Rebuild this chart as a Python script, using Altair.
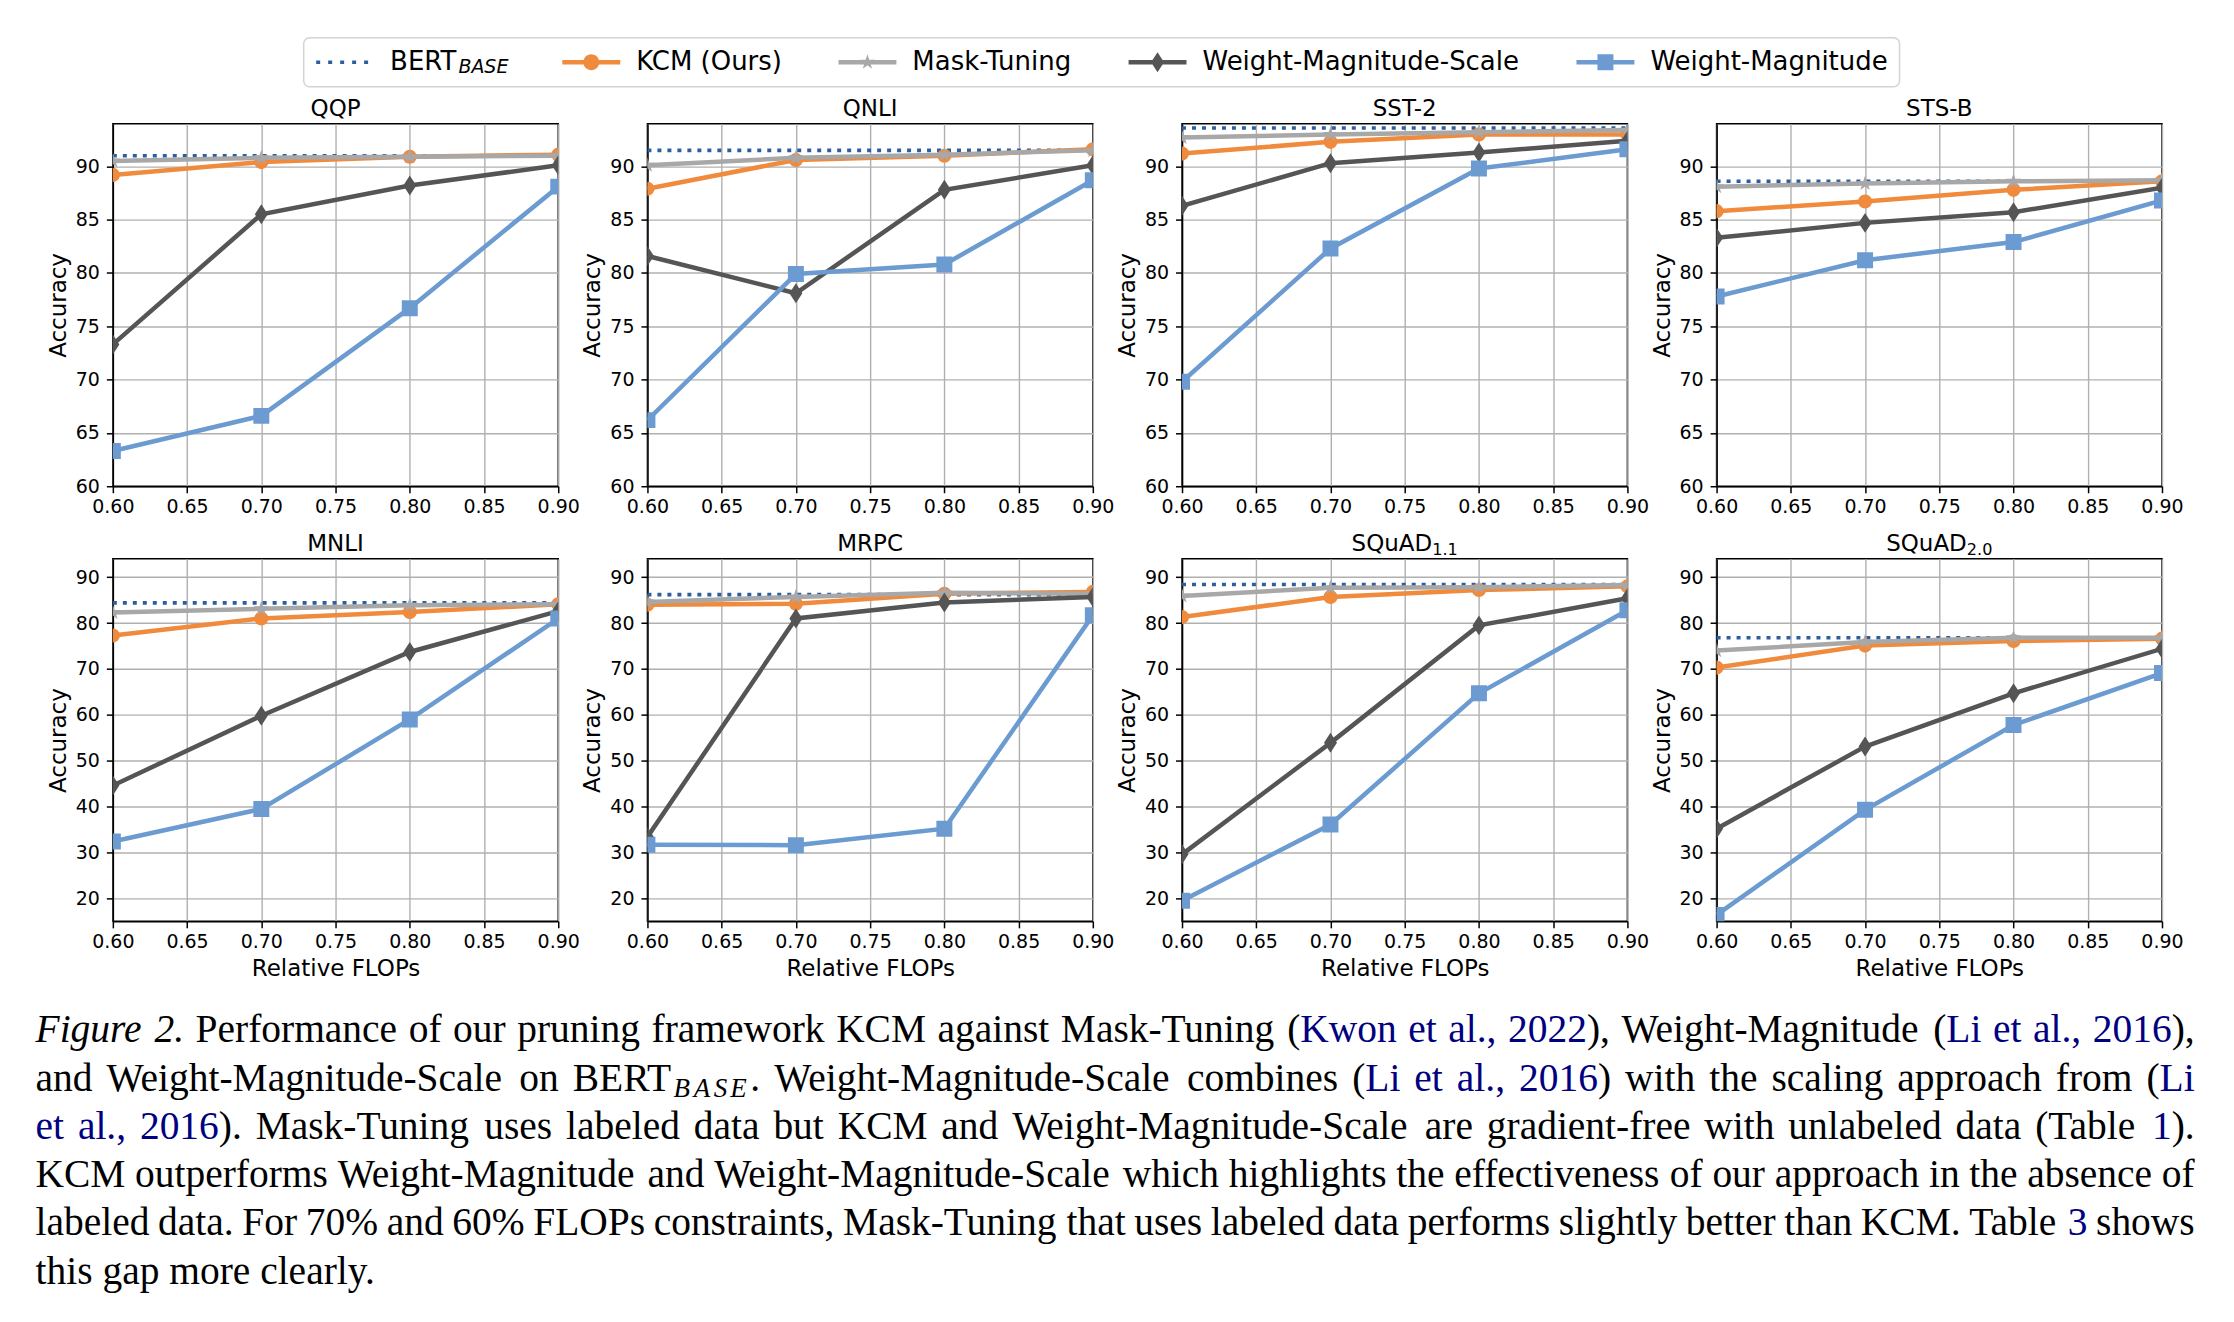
import math
import altair as alt
import pandas as pd

# ---------------------------------------------------------------- data
flops = [0.6, 0.7, 0.8, 0.9]
tasks = ["QQP", "QNLI", "SST-2", "STS-B", "MNLI", "MRPC", "SQuAD1.1", "SQuAD2.0"]

bert_base = {"QQP": 91.0, "QNLI": 91.5, "SST-2": 93.6, "STS-B": 88.6,
             "MNLI": 84.4, "MRPC": 86.2, "SQuAD1.1": 88.4, "SQuAD2.0": 76.8}
kcm = {"QQP": [89.2, 90.4, 90.9, 91.1], "QNLI": [87.9, 90.6, 91.0, 91.6],
       "SST-2": [91.2, 92.3, 93.0, 93.0], "STS-B": [85.8, 86.7, 87.8, 88.6],
       "MNLI": [77.3, 81.0, 82.4, 84.1], "MRPC": [84.0, 84.2, 86.4, 86.8],
       "SQuAD1.1": [81.3, 85.7, 87.2, 88.0], "SQuAD2.0": [70.3, 75.1, 76.1, 76.6]}
mask_tuning = {"QQP": [90.5, 90.8, 90.9, 91.0], "QNLI": [90.1, 90.8, 91.1, 91.5],
               "SST-2": [92.7, 93.0, 93.2, 93.4], "STS-B": [88.1, 88.4, 88.6, 88.7],
               "MNLI": [82.3, 83.1, 83.9, 84.1], "MRPC": [84.6, 85.7, 86.6, 86.4],
               "SQuAD1.1": [85.9, 87.7, 87.8, 88.3], "SQuAD2.0": [74.0, 75.9, 76.8, 76.8]}
wm_scale = {"QQP": [73.3, 85.5, 88.2, 90.1], "QNLI": [81.6, 78.1, 87.8, 90.1],
            "SST-2": [86.3, 90.3, 91.3, 92.4], "STS-B": [83.3, 84.7, 85.7, 88.0],
            "MNLI": [44.6, 59.8, 73.7, 82.6], "MRPC": [33.4, 81.0, 84.5, 85.7],
            "SQuAD1.1": [29.6, 53.9, 79.5, 85.4], "SQuAD2.0": [35.2, 53.1, 64.7, 74.4]}
wm = {"QQP": [63.3, 66.6, 76.7, 88.1], "QNLI": [66.2, 79.9, 80.8, 88.7],
      "SST-2": [69.8, 82.3, 89.8, 91.6], "STS-B": [77.8, 81.2, 82.9, 86.8],
      "MNLI": [32.4, 39.5, 59.0, 81.0], "MRPC": [31.7, 31.6, 35.2, 81.7],
      "SQuAD1.1": [19.5, 36.1, 64.7, 82.8], "SQuAD2.0": [16.4, 39.3, 57.8, 69.1]}

legend_names = ["BERT", "KCM (Ours)", "Mask-Tuning", "Weight-Magnitude-Scale", "Weight-Magnitude"]
x_ticks = [0.6, 0.65, 0.7, 0.75, 0.8, 0.85, 0.9]
y_ticks_top = [60, 65, 70, 75, 80, 85, 90]
y_ticks_bottom = [20, 30, 40, 50, 60, 70, 80, 90]

caption_lines = [
    [("Figure 2.", "i"), (" Performance of our pruning framework KCM against Mask-Tuning (", "n"),
     ("Kwon et al., 2022", "l"), ("), Weight-Magnitude (", "n"), ("Li et al., 2016", "l"), ("),", "n")],
    [("and Weight-Magnitude-Scale on BERT", "n"), ("BASE", "s"),
     (". Weight-Magnitude-Scale combines (", "n"), ("Li et al., 2016", "l"),
     (") with the scaling approach from (", "n"), ("Li", "l")],
    [("et al., 2016", "l"),
     (").  Mask-Tuning uses labeled data but KCM and Weight-Magnitude-Scale are gradient-free with unlabeled data (Table ", "n"),
     ("1", "l"), (").", "n")],
    [("KCM outperforms Weight-Magnitude and Weight-Magnitude-Scale which highlights the effectiveness of our approach in the absence of", "n")],
    [("labeled data. For 70% and 60% FLOPs constraints, Mask-Tuning that uses labeled data performs slightly better than KCM. Table ", "n"),
     ("3", "l"), (" shows", "n")],
    [("this gap more clearly.", "n")],
]

# ---------------------------------------------------------------- style
FONT = "DejaVu Sans"
SERIF = "Liberation Serif"
PANEL_W, PANEL_H = 446, 363
GAP_X, GAP_Y = 89.3, 72.7
ORIGIN_X, ORIGIN_Y = 111.4, 121.7          # top-left of the first plot area
CANVAS_W, CANVAS_H = 2234, 1322
LINE_W = 4.5

C_BERT = "#2D5F9E"
C_KCM = "#F08A3C"
C_MT = "#A8A8A8"
C_WMS = "#555555"
C_WM = "#6B9BD1"
C_LINK = "#000080"


def star_path(r_out, r_in):
    pts = []
    for k in range(10):
        r = r_out if k % 2 == 0 else r_in
        a = -math.pi / 2 + k * math.pi / 5
        pts.append((r * math.cos(a), r * math.sin(a)))
    return "M" + "L".join(f"{x:.4f},{y:.4f}" for x, y in pts) + "Z"


THIN_DIAMOND = "M0,-1L0.65,0L0,1L-0.65,0Z"
STAR = star_path(1.0, 0.382)

# series: name, values, colour, marker shape, marker size
series = [
    ("KCM (Ours)", kcm, C_KCM, "circle", 200),
    ("Mask-Tuning", mask_tuning, C_MT, STAR, 260),
    ("Weight-Magnitude-Scale", wm_scale, C_WMS, THIN_DIAMOND, 400),
    ("Weight-Magnitude", wm, C_WM, "square", 256),
]

# legend handles: a line with its marker, unit = 12 px
LU = 12.0
HL = 29 / LU
LW = LINE_W / 2 / LU


def f(v):
    return f"{v:.4f}"


line_rect = f"M{f(-HL)},{f(-LW)}H{f(HL)}V{f(LW)}H{f(-HL)}Z"
r_c = 8 / LU
circle_h = f"M{f(-r_c)},0A{f(r_c)},{f(r_c)} 0 1 1 {f(r_c)},0A{f(r_c)},{f(r_c)} 0 1 1 {f(-r_c)},0Z"
r_s = 8 / LU
square_h = f"M{f(-r_s)},{f(-r_s)}H{f(r_s)}V{f(r_s)}H{f(-r_s)}Z"
dh, dw = 10 / LU, 6.5 / LU
diamond_h = f"M0,{f(-dh)}L{f(dw)},0L0,{f(dh)}L{f(-dw)},0Z"
star_h = star_path(8 / LU, 8 * 0.382 / LU)
dots = ""
for i in range(5):
    x0 = -HL + i * 12 / LU
    dots += f"M{f(x0)},{f(-1.8 / LU)}H{f(x0 + 4 / LU)}V{f(1.8 / LU)}H{f(x0)}Z"

legend_shapes = [dots, line_rect + circle_h, line_rect + star_h,
                 line_rect + diamond_h, line_rect + square_h]
legend_colors = [C_BERT, C_KCM, C_MT, C_WMS, C_WM]
# room kept after "BERT" for the subscript (blank glyph at the end keeps it from trimming)
BERT_PAD = "\u00a0\u00a0\u00a0\u2009\u2800"


def x_axis(with_title):
    kw = dict(values=x_ticks, format=".2f", labelFlush=False, labelOverlap=False,
              grid=True, gridColor="#b0b0b0", gridWidth=1.4,
              tickSize=6.5, tickWidth=1.5, tickColor="black",
              domainColor="black", domainWidth=1.5,
              labelFont=FONT, labelFontSize=19, labelColor="black", labelPadding=5)
    if with_title:
        kw.update(title="Relative FLOPs", titleFont=FONT, titleFontSize=23,
                  titleFontWeight="normal", titleColor="black",
                  titleY=54, titleBaseline="alphabetic")
    else:
        kw["title"] = None
    return alt.Axis(**kw)


def y_axis(ticks):
    return alt.Axis(values=ticks, format="d", labelOverlap=False, labelFlush=False,
                    grid=True, gridColor="#b0b0b0", gridWidth=1.4,
                    tickSize=6.5, tickWidth=1.5, tickColor="black",
                    domainColor="black", domainWidth=1.5,
                    labelFont=FONT, labelFontSize=19, labelColor="black", labelPadding=7,
                    title="Accuracy", titleFont=FONT, titleFontSize=23,
                    titleFontWeight="normal", titleColor="black",
                    titleX=-54.5, titleY=PANEL_H / 2, titleAngle=270,
                    titleAlign="center", titleBaseline="middle")


def one_row():
    return pd.DataFrame({"a": [0]})


def panel(task, row, with_legend):
    ydom = [60, 94] if row == 0 else [15, 94]
    ticks = y_ticks_top if row == 0 else y_ticks_bottom
    xenc = alt.X("x:Q", scale=alt.Scale(domain=[0.6, 0.9], nice=False, zero=False),
                 axis=x_axis(row == 1))
    yenc = alt.Y("v:Q", scale=alt.Scale(domain=ydom, nice=False, zero=False),
                 axis=y_axis(ticks))
    layers = []
    if with_legend:
        # invisible frame spanning the whole page, fixes the page origin and size
        layers.append(alt.Chart(one_row()).mark_rect(fill="white", opacity=0).encode(
            x=alt.value(-ORIGIN_X), x2=alt.value(CANVAS_W - ORIGIN_X),
            y=alt.value(-ORIGIN_Y), y2=alt.value(CANVAS_H - ORIGIN_Y)))

    bert_df = pd.DataFrame({"x": flops, "v": [bert_base[task]] * len(flops)})
    layers.append(alt.Chart(bert_df).mark_line(
        clip=True, color=C_BERT, strokeWidth=3.6, strokeDash=[4, 6]).encode(x=xenc, y=yenc))

    for name, values, color, shape, size in series:
        df = pd.DataFrame({"x": flops, "v": values[task]})
        layers.append(alt.Chart(df).mark_line(clip=True, color=color, strokeWidth=LINE_W)
                      .encode(x=xenc, y=yenc))
        layers.append(alt.Chart(df).mark_point(clip=True, filled=True, color=color,
                                               shape=shape, size=size, opacity=1,
                                               strokeWidth=0)
                      .encode(x=xenc, y=yenc))

    if with_legend:
        leg = alt.Legend(orient="none", legendX=191.1, legendY=-86, direction="horizontal",
                         columns=5, title=None, symbolSize=576, symbolStrokeWidth=0,
                         symbolOffset=17, symbolOpacity=1, labelOffset=32,
                         labelFont=FONT, labelFontSize=26, labelColor="black",
                         labelLimit=600,
                         labelExpr=f"datum.label == 'BERT' ? 'BERT{BERT_PAD}' : datum.label",
                         columnPadding=55.5, padding=11.5,
                         strokeColor="#d3d3d3", cornerRadius=6)
        ldf = pd.DataFrame({"method": legend_names, "x": [0.0] * 5, "v": [ydom[0]] * 5})
        layers.append(alt.Chart(ldf).mark_point(clip=True, filled=True, size=576,
                                                strokeWidth=0).encode(
            x=xenc, y=yenc,
            shape=alt.Shape("method:N", scale=alt.Scale(domain=legend_names, range=legend_shapes),
                            legend=leg),
            color=alt.Color("method:N", scale=alt.Scale(domain=legend_names, range=legend_colors),
                            legend=leg)))
        layers.append(alt.Chart(one_row()).mark_text(
            text="BASE", font=FONT, fontSize=19, fontStyle="italic", align="left",
            baseline="alphabetic", color="black").encode(x=alt.value(346), y=alt.value(-51)))

    # panel title
    if task.startswith("SQuAD"):
        main, sub = "SQuAD", task[5:]
        w_main = 3.510 * 23
        w_sub = 1.590 * 16.1
        left = PANEL_W / 2 - (w_main + w_sub) / 2
        layers.append(alt.Chart(one_row()).mark_text(
            text=main, font=FONT, fontSize=23, align="left", baseline="alphabetic",
            color="black").encode(x=alt.value(left), y=alt.value(-8)))
        layers.append(alt.Chart(one_row()).mark_text(
            text=sub, font=FONT, fontSize=16.1, align="left", baseline="alphabetic",
            color="black").encode(x=alt.value(left + w_main), y=alt.value(-4)))
    else:
        layers.append(alt.Chart(one_row()).mark_text(
            text=task, font=FONT, fontSize=23, align="center", baseline="alphabetic",
            color="black").encode(x=alt.value(PANEL_W / 2), y=alt.value(-8)))

    return alt.layer(*layers).properties(width=PANEL_W, height=PANEL_H)


# ---------------------------------------------------------------- caption layout
ROMAN = {' ': 250, '!': 333, '%': 833, '(': 333, ')': 333, ',': 250, '-': 333, '.': 250,
         ':': 278, ';': 278, '?': 444,
         'A': 722, 'B': 667, 'C': 667, 'D': 722, 'E': 611, 'F': 556, 'G': 722, 'H': 722,
         'I': 333, 'J': 389, 'K': 722, 'L': 611, 'M': 889, 'N': 722, 'O': 722, 'P': 556,
         'Q': 722, 'R': 667, 'S': 556, 'T': 611, 'U': 722, 'V': 722, 'W': 944, 'X': 722,
         'Y': 722, 'Z': 611,
         'a': 444, 'b': 500, 'c': 444, 'd': 500, 'e': 444, 'f': 333, 'g': 500, 'h': 500,
         'i': 278, 'j': 278, 'k': 500, 'l': 278, 'm': 778, 'n': 500, 'o': 500, 'p': 500,
         'q': 500, 'r': 333, 's': 389, 't': 278, 'u': 500, 'v': 500, 'w': 722, 'x': 500,
         'y': 500, 'z': 444}
ITALIC = dict(ROMAN, F=611, r=389, B=611, A=611, S=500, E=611)
CAP_SIZE = 39.5
SUB_SIZE = 27.0
TEXT_LEFT = 34 - ORIGIN_X
TEXT_W = 2162
ROW3_TOP = ORIGIN_Y + 2 * PANEL_H + 2 * GAP_Y
BASELINE0 = 1041.7 - ROW3_TOP
LEADING = 48.3


def piece_width(text, style):
    if style == "s":
        return sum(ITALIC.get(c, 500) for c in text) * SUB_SIZE / 1000 * 1.22
    table = ITALIC if style == "i" else ROMAN
    return sum(table.get(c, 500) for c in text) * CAP_SIZE / 1000


def split_words(runs):
    words, cur = [], []
    for text, st in runs:
        parts = text.split(" ")
        for k, part in enumerate(parts):
            if k > 0 and cur:
                words.append(cur)
                cur = []
            if part:
                if st == "s":
                    cur.extend((c, st) for c in part)
                else:
                    cur.append((part, st))
    if cur:
        words.append(cur)
    return words


cap_rows = []
for li, runs in enumerate(caption_lines):
    words = split_words(runs)
    widths = [sum(piece_width(t, s) for t, s in w) for w in words]
    if li < len(caption_lines) - 1:
        gap = (TEXT_W - sum(widths)) / (len(words) - 1)
    else:
        gap = 0.25 * CAP_SIZE
    x = TEXT_LEFT
    y = BASELINE0 + li * LEADING
    for w, ww in zip(words, widths):
        px = x
        for t, s in w:
            cap_rows.append({"px": px, "py": y + (6 if s == "s" else 0), "t": t,
                             "c": C_LINK if s == "l" else "black", "s": s})
            px += piece_width(t, s)
        x += ww + gap

cap_df = pd.DataFrame(cap_rows)
cap_enc = dict(x=alt.X("px:Q", scale=None, axis=None), y=alt.Y("py:Q", scale=None, axis=None),
               text="t:N", color=alt.Color("c:N", scale=None, legend=None))
cap_base = alt.Chart(cap_df)
caption = alt.layer(
    cap_base.transform_filter("datum.s == 'n' || datum.s == 'l'").mark_text(
        font=SERIF, fontSize=CAP_SIZE, align="left", baseline="alphabetic").encode(**cap_enc),
    cap_base.transform_filter("datum.s == 'i'").mark_text(
        font=SERIF, fontSize=CAP_SIZE, fontStyle="italic", align="left",
        baseline="alphabetic").encode(**cap_enc),
    cap_base.transform_filter("datum.s == 's'").mark_text(
        font=SERIF, fontSize=SUB_SIZE, fontStyle="italic", align="left",
        baseline="alphabetic").encode(**cap_enc),
).properties(width=PANEL_W, height=280, view=alt.ViewBackground(stroke="transparent"))

# ---------------------------------------------------------------- assemble
cells = [panel(t, 0 if i < 4 else 1, i == 0) for i, t in enumerate(tasks)] + [caption]

chart = alt.concat(
    *cells, columns=4, spacing={"row": GAP_Y, "column": GAP_X}, bounds="flush"
).resolve_scale(
    x="independent", y="independent"
).properties(
    padding=0, background="white"
).configure_view(
    stroke="black", strokeWidth=1.5
).configure_legend(
    strokeWidth=1.5
)

chart.save("out.html", embed_options={"renderer": "svg", "actions": False})
